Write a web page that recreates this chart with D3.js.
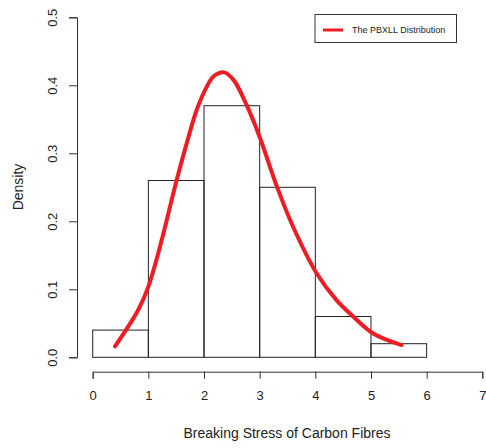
<!DOCTYPE html>
<html>
<head>
<meta charset="utf-8">
<script src="https://cdn.jsdelivr.net/npm/d3@7"></script>
<style>
  body { margin: 0; background: #fff; }
  text { font-family: "Liberation Sans", Arial, sans-serif; fill: #222; }
</style>
</head>
<body>
<div class="canvas"></div>
<script>
// histogram bins (breaking stress) and densities
const binStarts = [0, 1, 2, 3, 4, 5];
const binWidth = 1;
const densities = [0.04, 0.26, 0.37, 0.25, 0.06, 0.02];

// fitted PBXLL density
const curveX = [0.40, 0.82, 1.00, 1.21, 1.51, 1.69, 1.87, 2.05, 2.17, 2.36, 2.53, 2.77, 3.00, 3.31, 3.60, 4.02, 4.38, 4.68, 5.04, 5.55];
const curveY = [0.016, 0.070, 0.104, 0.163, 0.261, 0.315, 0.364, 0.398, 0.413, 0.419, 0.408, 0.370, 0.324, 0.251, 0.192, 0.124, 0.084, 0.060, 0.035, 0.018];

const xTicks = [0, 1, 2, 3, 4, 5, 6, 7];
const yTicks = [0.0, 0.1, 0.2, 0.3, 0.4, 0.5];

const width = 486, height = 448;

const x = d3.scaleLinear().domain([0, 7]).range([92.7, 482.3]);
const y = d3.scaleLinear().domain([0, 0.5]).range([357.3, 17.3]);

const svg = d3.select(".canvas").append("svg")
  .attr("width", width)
  .attr("height", height);

// bars
svg.selectAll("rect.bar")
  .data(densities)
  .join("rect")
  .attr("class", "bar")
  .attr("x", (d, i) => x(binStarts[i]))
  .attr("y", d => y(d))
  .attr("width", (d, i) => x(binStarts[i] + binWidth) - x(binStarts[i]))
  .attr("height", d => y(0) - y(d))
  .attr("fill", "none")
  .attr("stroke", "#222")
  .attr("stroke-width", 1);

// x axis
const gx = svg.append("g")
  .attr("transform", "translate(0,371.7)")
  .call(d3.axisBottom(x).tickValues(xTicks).tickFormat(d3.format("d")).tickSize(7).tickPadding(12));
gx.select(".domain").attr("stroke", "#333");
gx.selectAll(".tick line").attr("stroke", "#333");
gx.selectAll("text").style("font-size", "13px");

// y axis
const gy = svg.append("g")
  .attr("transform", "translate(77,0)")
  .call(d3.axisLeft(y).tickValues(yTicks).tickFormat(d3.format(".1f")).tickSize(8));
gy.select(".domain").attr("stroke", "#333");
gy.selectAll(".tick line").attr("stroke", "#333");
gy.selectAll("text")
  .style("font-size", "13px")
  .attr("text-anchor", "middle")
  .attr("dy", null)
  .attr("x", 0)
  .attr("transform", "translate(-25,0) rotate(-90)")
  .attr("dominant-baseline", "central");

// axis titles
svg.append("text")
  .attr("x", x(3.5) - 0.5)
  .attr("y", 438)
  .attr("text-anchor", "middle")
  .style("font-size", "14px")
  .text("Breaking Stress of Carbon Fibres");

svg.append("text")
  .attr("transform", "translate(23,187) rotate(-90)")
  .attr("text-anchor", "middle")
  .style("font-size", "14px")
  .text("Density");

// fitted curve
const line = d3.line()
  .x((d, i) => x(curveX[i]))
  .y(d => y(d))
  .curve(d3.curveCatmullRom);

svg.append("path")
  .datum(curveY)
  .attr("d", line)
  .attr("fill", "none")
  .attr("stroke", "#ee1c25")
  .attr("stroke-width", 4)
  .attr("stroke-linecap", "round");

// legend
const legend = svg.append("g").attr("transform", "translate(315,14.5)");
legend.append("rect")
  .attr("width", 141.5)
  .attr("height", 28)
  .attr("fill", "#fff")
  .attr("stroke", "#333");
legend.append("line")
  .attr("x1", 8).attr("x2", 28)
  .attr("y1", 15.5).attr("y2", 15.5)
  .attr("stroke", "#ee1c25")
  .attr("stroke-width", 3);
legend.append("text")
  .attr("x", 37)
  .attr("y", 15.5)
  .attr("dominant-baseline", "central")
  .style("font-size", "9px")
  .text("The PBXLL Distribution");
</script>
</body>
</html>
